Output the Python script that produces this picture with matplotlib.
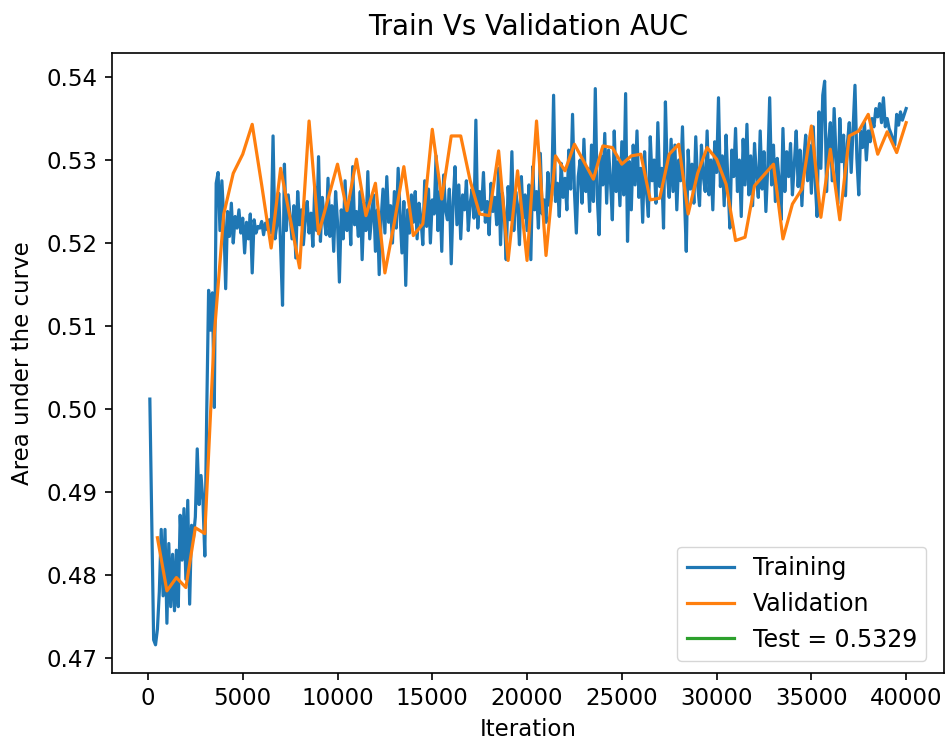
"""
Train vs validation AUC over training iterations
"""
import numpy as np
from matplotlib import pyplot as plt

# training AUC, logged every 100 iterations
train_iter = np.arange(100, 40001, 100)
train_auc = [
    0.5012, 0.4865, 0.4722, 0.4716, 0.4735, 0.4780, 0.4855, 0.4775, 0.4855, 0.4742,
    0.4838, 0.4762, 0.4825, 0.4757, 0.4830, 0.4762, 0.4872, 0.4818, 0.4880, 0.4795,
    0.4890, 0.4765, 0.4860, 0.4845, 0.4870, 0.4952, 0.4885, 0.4920, 0.4890, 0.4823,
    0.4995, 0.5143, 0.5095, 0.5140, 0.5002, 0.5272, 0.5285, 0.5215, 0.5275, 0.5228,
    0.5145, 0.5238, 0.5208, 0.5248, 0.5200, 0.5232, 0.5218, 0.5240, 0.5212, 0.5230,
    0.5188, 0.5225, 0.5205, 0.5235, 0.5164, 0.5228, 0.5212, 0.5220, 0.5218, 0.5226,
    0.5210, 0.5224, 0.5216, 0.5228, 0.5212, 0.5329, 0.5205, 0.5222, 0.5260, 0.5195,
    0.5125, 0.5295, 0.5215, 0.5258, 0.5232, 0.5205, 0.5245, 0.5182, 0.5262, 0.5222,
    0.5240, 0.5198, 0.5228, 0.5250, 0.5212, 0.5236, 0.5196, 0.5268, 0.5215, 0.5304,
    0.5202, 0.5255, 0.5228, 0.5210, 0.5278, 0.5208, 0.5245, 0.5190, 0.5262, 0.5225,
    0.5153, 0.5240, 0.5205, 0.5275, 0.5215, 0.5250, 0.5198, 0.5292, 0.5222, 0.5238,
    0.5208, 0.5262, 0.5180, 0.5248, 0.5215, 0.5286, 0.5205, 0.5232, 0.5258, 0.5190,
    0.5240, 0.5162, 0.5228, 0.5265, 0.5212, 0.5280, 0.5225, 0.5245, 0.5200, 0.5262,
    0.5218, 0.5290, 0.5235, 0.5188, 0.5250, 0.5149, 0.5240, 0.5212, 0.5258, 0.5225,
    0.5262, 0.5205, 0.5248, 0.5230, 0.5198, 0.5275, 0.5220, 0.5265, 0.5200, 0.5252,
    0.5235, 0.5305, 0.5215, 0.5262, 0.5190, 0.5282, 0.5240, 0.5228, 0.5265, 0.5175,
    0.5250, 0.5292, 0.5222, 0.5270, 0.5205, 0.5258, 0.5240, 0.5275, 0.5215, 0.5248,
    0.5265, 0.5230, 0.5348, 0.5218, 0.5262, 0.5240, 0.5285, 0.5225, 0.5250, 0.5210,
    0.5272, 0.5238, 0.5255, 0.5222, 0.5290, 0.5198, 0.5260, 0.5235, 0.5180, 0.5268,
    0.5228, 0.5310, 0.5215, 0.5262, 0.5245, 0.5198, 0.5280, 0.5230, 0.5258, 0.5215,
    0.5270, 0.5180, 0.5292, 0.5240, 0.5262, 0.5218, 0.5308, 0.5235, 0.5252, 0.5225,
    0.5285, 0.5245, 0.5258, 0.5378, 0.5250, 0.5272, 0.5232, 0.5296, 0.5255, 0.5278,
    0.5240, 0.5312, 0.5265, 0.5355, 0.5262, 0.5212, 0.5280, 0.5300, 0.5248, 0.5325,
    0.5262, 0.5290, 0.5238, 0.5318, 0.5250, 0.5386, 0.5258, 0.5210, 0.5305, 0.5270,
    0.5332, 0.5248, 0.5312, 0.5275, 0.5228, 0.5335, 0.5262, 0.5298, 0.5245, 0.5322,
    0.5258, 0.5380, 0.5202, 0.5298, 0.5240, 0.5318, 0.5270, 0.5335, 0.5255, 0.5290,
    0.5225, 0.5310, 0.5262, 0.5232, 0.5328, 0.5275, 0.5300, 0.5248, 0.5345, 0.5268,
    0.5290, 0.5218, 0.5370, 0.5282, 0.5255, 0.5325, 0.5262, 0.5318, 0.5240, 0.5300,
    0.5275, 0.5340, 0.5258, 0.5190, 0.5312, 0.5265, 0.5295, 0.5248, 0.5328, 0.5270,
    0.5245, 0.5318, 0.5280, 0.5262, 0.5335, 0.5258, 0.5300, 0.5240, 0.5322, 0.5285,
    0.5375, 0.5268, 0.5305, 0.5245, 0.5330, 0.5272, 0.5218, 0.5312, 0.5280, 0.5338,
    0.5262, 0.5300, 0.5232, 0.5325, 0.5270, 0.5343, 0.5258, 0.5305, 0.5245, 0.5320,
    0.5282, 0.5255, 0.5335, 0.5265, 0.5310, 0.5238, 0.5292, 0.5375, 0.5270, 0.5318,
    0.5250, 0.5302, 0.5275, 0.5228, 0.5338, 0.5262, 0.5310, 0.5280, 0.5320, 0.5258,
    0.5295, 0.5335, 0.5268, 0.5312, 0.5245, 0.5300, 0.5330, 0.5275, 0.5318, 0.5260,
    0.5340, 0.5275, 0.5232, 0.5358, 0.5290, 0.5378, 0.5395, 0.5262, 0.5320, 0.5345,
    0.5275, 0.5362, 0.5305, 0.5248, 0.5350, 0.5298, 0.5330, 0.5257, 0.5320, 0.5345,
    0.5285, 0.5338, 0.5390, 0.5302, 0.5258, 0.5335, 0.5315, 0.5345, 0.5300, 0.5335,
    0.5322, 0.5350, 0.5340, 0.5362, 0.5352, 0.5368, 0.5345, 0.5375, 0.5340, 0.5350,
    0.5338, 0.5332, 0.5325, 0.5318, 0.5355, 0.5342, 0.5358, 0.5348, 0.5355, 0.5362,
]

# validation AUC, evaluated every 500 iterations
val_iter = np.arange(500, 40001, 500)
val_auc = [
    0.4845, 0.4781, 0.4797, 0.4785, 0.4857, 0.4850, 0.5090, 0.5235, 0.5284, 0.5307,
    0.5343, 0.5270, 0.5194, 0.5290, 0.5230, 0.5170, 0.5347, 0.5211, 0.5253, 0.5295,
    0.5239, 0.5301, 0.5233, 0.5272, 0.5164, 0.5225, 0.5292, 0.5209, 0.5223, 0.5337,
    0.5253, 0.5329, 0.5329, 0.5275, 0.5235, 0.5233, 0.5311, 0.5179, 0.5287, 0.5179,
    0.5347, 0.5185, 0.5305, 0.5287, 0.5319, 0.5298, 0.5277, 0.5317, 0.5315, 0.5295,
    0.5305, 0.5307, 0.5252, 0.5254, 0.5307, 0.5319, 0.5235, 0.5284, 0.5315, 0.5301,
    0.5271, 0.5203, 0.5207, 0.5269, 0.5282, 0.5295, 0.5205, 0.5247, 0.5265, 0.5341,
    0.5231, 0.5313, 0.5228, 0.5329, 0.5335, 0.5355, 0.5307, 0.5334, 0.5309, 0.5345,
]

test_auc = 0.5329

plt.rcParams["font.size"] = 16.5

fig = plt.figure(figsize=(9.47, 7.42), dpi=100)
ax = fig.add_axes([0.1183, 0.0930, 0.8785, 0.8356])

ax.plot(train_iter, train_auc, color="tab:blue", linewidth=2.3, label="Training")
ax.plot(val_iter, val_auc, color="tab:orange", linewidth=2.3, label="Validation")
# test score only goes into the legend
ax.plot([], [], color="tab:green", linewidth=2.3, label=f"Test = {test_auc}")

ax.set_title("Train Vs Validation AUC", fontsize=19.8, pad=13)
ax.set_xlabel("Iteration", labelpad=6)
ax.set_ylabel("Area under the curve", labelpad=9)
ax.set_yticks([0.47, 0.48, 0.49, 0.50, 0.51, 0.52, 0.53, 0.54])
ax.tick_params(length=5.2, width=1.2, pad=5)
for spine in ax.spines.values():
    spine.set_linewidth(1.2)
ax.legend(loc="lower right", fontsize=17, bbox_to_anchor=(0.993, 0.0))

fig.savefig("out.png", dpi=100)
